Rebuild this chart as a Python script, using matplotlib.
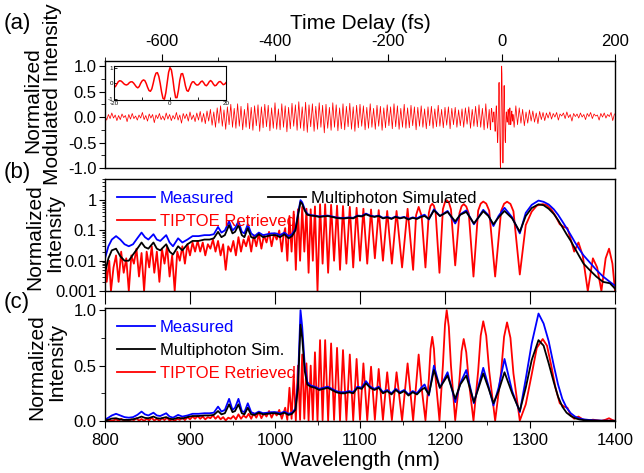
import numpy as np
import matplotlib
matplotlib.use("Agg")
import matplotlib.pyplot as plt
from matplotlib.ticker import MultipleLocator, LogLocator, NullFormatter, FormatStrFormatter, FixedLocator, FixedFormatter

# ---- panel (a): modulated intensity vs time delay ----
# before the main burst, sampled every 3 fs from -700 fs
t_pre_start, t_pre_step = -700, 3
sig_pre = [
    0.02, -0.06, 0.05, -0.03, 0.08, -0.02, 0.04, -0.07, 0.03, -0.05, 0.06, -0.01, 0.03, -0.09, 0.05, -0.04, 0.07, -0.03, 0.02,
    -0.06, 0.04, -0.02, 0.09, -0.05, 0.03, -0.08, 0.06, -0.02, 0.05, -0.11, 0.04, -0.03, 0.07, -0.05, 0.02, -0.06, 0.08, -0.04,
    0.05, -0.07, 0.03, -0.04, 0.09, -0.06, 0.04, -0.12, 0.07, -0.03, 0.06, -0.08, 0.10, -0.05, 0.04, -0.09, 0.08, -0.06, 0.11,
    -0.10, 0.07, -0.13, 0.12, -0.08, 0.15, -0.16, 0.10, -0.20, 0.18, -0.12, 0.22, -0.18, 0.14, -0.24, 0.20, -0.15, 0.25, -0.20,
    0.17, -0.22, 0.26, -0.18, 0.21, -0.25, 0.15, -0.20, 0.27, -0.23, 0.19, -0.26, 0.22, -0.17, 0.24, -0.28, 0.20, -0.21, 0.25,
    -0.19, 0.23, -0.27, 0.18, -0.22, 0.28, -0.24, 0.16, -0.25, 0.26, -0.20, 0.22, -0.29, 0.19, -0.23, 0.27, -0.18, 0.24, -0.26,
    0.30, -0.22, 0.20, -0.27, 0.29, -0.30, 0.24, -0.19, 0.26, -0.28, 0.21, -0.24, 0.28, -0.20, 0.23, -0.31, 0.25, -0.22, 0.19,
    -0.26, 0.28, -0.20, 0.24, -0.27, 0.18, -0.23, 0.26, -0.25, 0.21, -0.19, 0.27, -0.24, 0.20, -0.28, 0.23, -0.21, 0.25, -0.18,
    0.22, -0.25, 0.19, -0.22, 0.26, -0.20, 0.17, -0.24, 0.23, -0.18, 0.21, -0.26, 0.18, -0.21, 0.24, -0.17, 0.20, -0.23, 0.26,
    -0.19, 0.22, -0.24, 0.17, -0.20, 0.25, -0.22, 0.18, -0.21, 0.23, -0.17, 0.20, -0.25, 0.19, -0.18, 0.22, -0.20, 0.16, -0.23,
    0.20, -0.17, 0.21, -0.22, 0.16, -0.19, 0.23, -0.18, 0.15, -0.21, 0.19, -0.16, 0.20, -0.23, 0.17, -0.15, 0.19, -0.20, 0.14,
    -0.17, 0.16, -0.20, 0.18, -0.14, 0.20, -0.22, 0.15, -0.18, 0.21, -0.19, 0.24, -0.20, 0.17, -0.25, 0.26, -0.22, 0.15,
]
# central burst (also shown in the inset), every 0.5 fs from -20 fs
t_mid_start, t_mid_step = -20, 0.5
sig_mid = [
    -0.25, -0.20, -0.05, 0.10, 0.17, 0.15, 0.08, -0.02, -0.08, -0.10,
    -0.05, 0.05, 0.10, 0.10, 0.02, -0.10, -0.22, -0.28, -0.20, 0.00,
    0.15, 0.22, 0.18, 0.00, -0.25, -0.45, -0.50, -0.35, 0.00, 0.40,
    0.65, 0.68, 0.45, 0.00, -0.55, -0.95, -1.00, -0.60, 0.05, 0.70,
    1.00, 0.85, 0.30, -0.40, -0.90, -0.90, -0.45, 0.20, 0.60, 0.62,
    0.30, -0.15, -0.45, -0.50, -0.30, -0.05, 0.10, 0.10, -0.02, -0.10,
    -0.10, -0.02, 0.10, 0.15, 0.05, -0.10, -0.15, -0.05, 0.10, 0.18,
    0.10, -0.05, -0.15, -0.12, 0.00, 0.10, 0.12, 0.02, -0.08, -0.05,
    0.05,
]
# after the burst, every 3 fs from 22 fs
t_post_start, t_post_step = 22, 3
sig_post = [
    -0.20, 0.22, -0.15, 0.18, -0.12, 0.15, -0.17, 0.10, -0.12, 0.14, -0.08, 0.12, -0.10, 0.08, -0.13, 0.11, -0.05, 0.09, -0.07,
    0.08, -0.02, 0.10, -0.04, 0.07, 0.00, 0.09, -0.06, 0.06, 0.02, 0.08, -0.03, 0.10, -0.01, 0.05, -0.08, 0.07, 0.01, 0.06,
    -0.02, 0.08, 0.00, 0.05, -0.05, 0.07, 0.01, 0.09, -0.03, 0.06, 0.02, 0.04, -0.06, 0.07, 0.00, 0.08, -0.02, 0.05, 0.01,
    0.09, -0.07, 0.06,
]

# ---- panels (b), (c): spectra ----
wl_meas = [800, 804, 808, 813, 818, 823, 828, 833, 838, 843, 847, 851, 857, 861, 865, 872, 876, 880, 886, 891,
           897, 903, 910, 917, 923, 928, 933, 937, 941, 946, 950, 953, 957, 961, 964, 968, 972, 976, 981, 986,
           991, 996, 1001, 1006, 1011, 1016, 1020, 1024, 1027, 1030, 1032, 1035, 1038, 1042, 1047, 1052, 1057, 1062, 1067, 1072,
           1077, 1082, 1087, 1092, 1097, 1102, 1107, 1112, 1117, 1122, 1127, 1132, 1137, 1142, 1147, 1152, 1157, 1162, 1167, 1172,
           1176, 1181, 1187, 1194, 1203, 1212, 1218, 1225, 1234, 1245, 1251, 1257, 1263, 1270, 1279, 1288, 1295, 1302, 1310, 1316,
           1322, 1328, 1333, 1338, 1343, 1348, 1353, 1358, 1363, 1370, 1378, 1386, 1394, 1400]
measured = [0.012, 0.03, 0.05, 0.065, 0.05, 0.035, 0.03, 0.035, 0.055, 0.085, 0.06, 0.05, 0.075, 0.05, 0.045, 0.07, 0.04, 0.03, 0.055, 0.04,
            0.05, 0.065, 0.065, 0.07, 0.07, 0.075, 0.13, 0.085, 0.10, 0.20, 0.10, 0.12, 0.20, 0.09, 0.08, 0.16, 0.08, 0.065, 0.085, 0.07,
            0.075, 0.08, 0.08, 0.07, 0.085, 0.065, 0.075, 0.11, 0.35, 1.00, 0.85, 0.50, 0.35, 0.32, 0.31, 0.29, 0.30, 0.31, 0.29, 0.27,
            0.26, 0.26, 0.27, 0.26, 0.31, 0.30, 0.36, 0.31, 0.29, 0.31, 0.26, 0.28, 0.25, 0.29, 0.26, 0.28, 0.24, 0.27, 0.25, 0.30,
            0.33, 0.23, 0.50, 0.30, 0.44, 0.17, 0.34, 0.46, 0.16, 0.48, 0.32, 0.14, 0.30, 0.56, 0.27, 0.08, 0.38, 0.70, 0.97, 0.88,
            0.72, 0.50, 0.33, 0.20, 0.12, 0.07, 0.04, 0.024, 0.015, 0.009, 0.005, 0.003, 0.002, 0.0015]
multiphoton = [0.004, 0.012, 0.022, 0.025, 0.014, 0.010, 0.010, 0.016, 0.025, 0.040, 0.028, 0.025, 0.040, 0.025, 0.022, 0.035, 0.020, 0.016, 0.030, 0.022,
               0.035, 0.045, 0.045, 0.050, 0.050, 0.055, 0.090, 0.060, 0.070, 0.150, 0.080, 0.090, 0.150, 0.070, 0.060, 0.120, 0.060, 0.055, 0.075, 0.060,
               0.065, 0.070, 0.070, 0.060, 0.075, 0.055, 0.065, 0.10, 0.30, 0.87, 0.75, 0.45, 0.33, 0.31, 0.30, 0.28, 0.29, 0.30, 0.28, 0.26,
               0.25, 0.25, 0.26, 0.25, 0.30, 0.29, 0.34, 0.30, 0.28, 0.30, 0.25, 0.27, 0.24, 0.28, 0.25, 0.27, 0.23, 0.26, 0.24, 0.28,
               0.30, 0.24, 0.46, 0.30, 0.41, 0.20, 0.33, 0.41, 0.17, 0.43, 0.30, 0.16, 0.27, 0.44, 0.25, 0.09, 0.30, 0.55, 0.73, 0.68,
               0.52, 0.35, 0.22, 0.13, 0.075, 0.045, 0.025, 0.014, 0.008, 0.005, 0.003, 0.002, 0.0018, 0.0012]

wl_tip = [800, 802, 805, 807, 810, 813, 816, 819, 822, 825, 828, 831, 834, 837, 840, 843, 846, 849, 852, 855,
          858, 861, 864, 867, 870, 873, 876, 879, 882, 885, 888, 891, 894, 897, 900, 903, 906, 909, 912, 915,
          918, 921, 924, 927, 930, 933, 936, 939, 942, 945, 948, 951, 954, 957, 960, 963, 966, 969, 972, 975,
          978, 981, 984, 987, 990, 993, 996, 999, 1002, 1005, 1008, 1010,
          1012, 1014.5, 1017, 1019.5, 1022, 1024.5, 1027, 1029.5, 1032, 1034.5, 1037, 1039.5, 1042, 1044.5, 1047, 1050,
          1053, 1056, 1059, 1062.5, 1066, 1069.5, 1073, 1076.5, 1080, 1084, 1088, 1092, 1096, 1100, 1104, 1108.5,
          1113, 1117.5, 1122, 1127, 1132, 1137.5, 1143, 1149.5, 1156, 1162.5, 1166, 1169, 1172.5, 1177,
          1181, 1183, 1185, 1187, 1189, 1193.5, 1197.5, 1200, 1202, 1204.5, 1207, 1212,
          1217, 1219.5, 1222, 1225, 1228, 1233.5, 1239, 1242, 1245, 1248.5, 1252, 1259,
          1266, 1269.5, 1273, 1277, 1280.5, 1288, 1295, 1302, 1308, 1315, 1320, 1325, 1330, 1335, 1340, 1344,
          1348, 1352, 1357, 1362, 1368, 1374, 1379, 1384, 1389, 1393, 1397, 1400]
tiptoe = [0.012, 0.002, 0.010, 0.001, 0.006, 0.015, 0.002, 0.020, 0.004, 0.012, 0.001, 0.015, 0.008, 0.025, 0.003, 0.018, 0.001, 0.020, 0.006, 0.030,
          0.004, 0.020, 0.002, 0.025, 0.008, 0.030, 0.003, 0.015, 0.001, 0.020, 0.010, 0.030, 0.008, 0.035, 0.015, 0.040, 0.020, 0.045, 0.020, 0.040,
          0.015, 0.035, 0.025, 0.050, 0.020, 0.045, 0.015, 0.035, 0.005, 0.030, 0.020, 0.045, 0.015, 0.060, 0.020, 0.050, 0.030, 0.065, 0.020, 0.070,
          0.030, 0.080, 0.025, 0.070, 0.040, 0.090, 0.030, 0.080, 0.050, 0.100, 0.020, 0.070,
          0.12, 0.010, 0.30, 0.020, 0.42, 0.005, 0.50, 0.010, 0.60, 0.020, 0.52, 0.004, 0.50, 0.010, 0.62, 0.001,
          0.73, 0.008, 0.73, 0.004, 0.70, 0.010, 0.66, 0.005, 0.64, 0.008, 0.60, 0.006, 0.56, 0.010, 0.52, 0.008,
          0.49, 0.012, 0.47, 0.010, 0.44, 0.008, 0.44, 0.006, 0.52, 0.005, 0.32, 0.60, 0.30, 0.006,
          0.38, 0.65, 0.76, 0.65, 0.38, 0.004, 0.50, 0.87, 1.00, 0.85, 0.50, 0.007,
          0.37, 0.63, 0.74, 0.62, 0.36, 0.003, 0.45, 0.77, 0.90, 0.77, 0.45, 0.003,
          0.44, 0.76, 0.89, 0.75, 0.43, 0.0035, 0.15, 0.42, 0.66, 0.74, 0.68, 0.50, 0.30, 0.16, 0.13, 0.12,
          0.05, 0.02, 0.04, 0.015, 0.001, 0.012, 0.006, 0.001, 0.012, 0.025, 0.008, 0.001]

BLUE = "#0000ff"
RED = "#ff0000"
BLACK = "#000000"

plt.rcParams["font.family"] = ["Liberation Sans", "DejaVu Sans"]
plt.rcParams["axes.unicode_minus"] = False
plt.rcParams["axes.linewidth"] = 1.0

t_pre = t_pre_start + t_pre_step * np.arange(len(sig_pre))
t_mid = t_mid_start + t_mid_step * np.arange(len(sig_mid))
t_post = t_post_start + t_post_step * np.arange(len(sig_post))
t_all = np.concatenate([t_pre, t_mid, t_post])
sig_all = np.concatenate([sig_pre, sig_mid, sig_post])

W, H = 644, 473
fig = plt.figure(figsize=(W / 100, H / 100), dpi=100)


def box(left, top, right, bottom):
    return [left / W, 1 - bottom / H, (right - left) / W, (bottom - top) / H]


TICK = 12
LEG = 12

# (a)
ax_a = fig.add_axes(box(105, 61, 615, 168))
ax_a.plot(t_all, sig_all, color=RED, lw=0.55)
ax_a.set_xlim(-700, 200)
ax_a.set_ylim(-1.0, 1.1)
ax_a.xaxis.tick_top()
ax_a.xaxis.set_label_position("top")
ax_a.set_xlabel("Time Delay (fs)", fontsize=15, labelpad=4)
ax_a.xaxis.set_major_locator(MultipleLocator(200))
ax_a.xaxis.set_minor_locator(MultipleLocator(100))
ax_a.yaxis.set_major_locator(MultipleLocator(0.5))
ax_a.yaxis.set_minor_locator(MultipleLocator(0.25))
ax_a.yaxis.set_major_formatter(FormatStrFormatter("%.1f"))
ax_a.tick_params(which="both", direction="out", labelsize=TICK, top=True, bottom=False, right=False)
ax_a.tick_params(which="major", length=5)
ax_a.tick_params(which="minor", length=3)
ax_a.tick_params(axis="y", which="major", length=4, pad=2)

# inset
ax_in = fig.add_axes(box(114, 66, 226, 100))
ax_in.plot(t_mid, sig_mid, color=RED, lw=1.1)
ax_in.set_xlim(-20, 20)
ax_in.set_ylim(-1.05, 1.1)
ax_in.set_xticks([-20, 0, 20])
ax_in.set_yticks([-1, 0, 1])
ax_in.xaxis.set_minor_locator(MultipleLocator(10))
ax_in.tick_params(which="both", direction="in", labelsize=4.5, pad=0.8, length=2, width=0.6)
for s in ax_in.spines.values():
    s.set_linewidth(0.8)

# (b)
ax_b = fig.add_axes(box(105, 179, 615, 291))
l_tip, = ax_b.plot(wl_tip, tiptoe, color=RED, lw=1.3)
l_meas, = ax_b.plot(wl_meas, measured, color=BLUE, lw=1.3)
l_sim, = ax_b.plot(wl_meas, multiphoton, color=BLACK, lw=1.3)
ax_b.set_yscale("log")
ax_b.set_xlim(800, 1400)
ax_b.set_ylim(0.001, 5)
ax_b.yaxis.set_major_locator(FixedLocator([0.001, 0.01, 0.1, 1]))
ax_b.yaxis.set_major_formatter(FixedFormatter(["0.001", "0.01", "0.1", "1"]))
ax_b.yaxis.set_minor_locator(LogLocator(base=10, subs=np.arange(2, 10)))
ax_b.yaxis.set_minor_formatter(NullFormatter())
ax_b.xaxis.set_major_locator(MultipleLocator(100))
ax_b.tick_params(axis="x", which="major", direction="out", length=9, labelbottom=False)
ax_b.tick_params(axis="y", which="major", direction="out", length=4, pad=2, labelsize=TICK)
ax_b.tick_params(axis="y", which="minor", direction="out", length=2.5)
leg_kw = dict(frameon=False, fontsize=LEG, handlelength=2.3, handletextpad=0.3,
              borderaxespad=0.3, labelspacing=0.5, labelcolor="linecolor")
leg1 = ax_b.legend([l_meas, l_tip], ["Measured", "TIPTOE Retrieved"], loc="upper left", **leg_kw)
ax_b.add_artist(leg1)
ax_b.legend([l_sim], ["Multiphoton Simulated"], loc="upper left",
            bbox_to_anchor=((256 - 105) / 510, 1.0), **leg_kw)

# (c)
ax_c = fig.add_axes(box(105, 308, 615, 421))
l_tip_c, = ax_c.plot(wl_tip, tiptoe, color=RED, lw=1.3)
l_meas_c, = ax_c.plot(wl_meas, measured, color=BLUE, lw=1.3)
l_sim_c, = ax_c.plot(wl_meas, multiphoton, color=BLACK, lw=1.3)
ax_c.set_xlim(800, 1400)
ax_c.set_ylim(0, 1.02)
ax_c.xaxis.set_major_locator(MultipleLocator(100))
ax_c.xaxis.set_minor_locator(MultipleLocator(50))
ax_c.yaxis.set_major_locator(MultipleLocator(0.5))
ax_c.yaxis.set_minor_locator(MultipleLocator(0.25))
ax_c.yaxis.set_major_formatter(FormatStrFormatter("%.1f"))
ax_c.tick_params(which="both", direction="out", labelsize=TICK)
ax_c.tick_params(which="major", length=5)
ax_c.tick_params(which="minor", length=3)
ax_c.tick_params(axis="y", which="major", length=4, pad=2)
ax_c.set_xlabel("Wavelength (nm)", fontsize=15, labelpad=2)
ax_c.legend([l_meas_c, l_sim_c, l_tip_c], ["Measured", "Multiphoton Sim.", "TIPTOE Retrieved"],
            loc="upper left", **leg_kw)

# y labels (one text per line) and panel letters
ylab_kw = dict(rotation=90, ha="center", va="center", fontsize=15)
ylabels = [
    (33, 100, "Normalized"), (53, 94, "Modulated Intensity"),
    (35, 237, "Normalized"), (55, 233, "Intensity"),
    (37, 367, "Normalized"), (57, 362, "Intensity"),
]
for x, y, s in ylabels:
    fig.text(x / W, 1 - y / H, s, **ylab_kw)
fig.text(4 / W, 1 - 13 / H, "(a)", fontsize=16, va="top")
fig.text(4 / W, 1 - 162 / H, "(b)", fontsize=16, va="top")
fig.text(4 / W, 1 - 292 / H, "(c)", fontsize=16, va="top")

fig.savefig("out.png", dpi=100)
